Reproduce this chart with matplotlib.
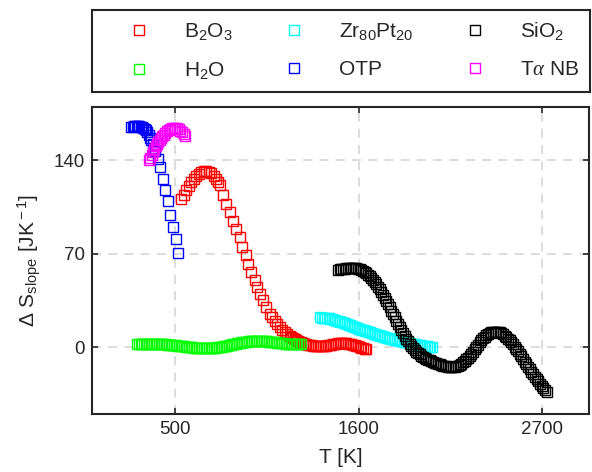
import matplotlib
matplotlib.use('Agg')
import matplotlib.pyplot as plt

plt.rcParams['font.family'] = ['Liberation Sans', 'DejaVu Sans']
plt.rcParams['mathtext.fontset'] = 'custom'
plt.rcParams['mathtext.rm'] = 'Liberation Sans'
plt.rcParams['mathtext.it'] = 'Liberation Serif:italic'
plt.rcParams['mathtext.bf'] = 'Liberation Sans:bold'

# B2O3
T_b2o3 = [536, 550, 565, 580, 595, 610, 625, 640, 655, 670, 685, 700, 715, 730, 745, 756,
          766, 786, 806, 826, 846, 866, 886, 902, 921, 935, 956, 975, 989, 1005, 1025, 1046,
          1065, 1080, 1095, 1110, 1125, 1140, 1155, 1170, 1185, 1195, 1205, 1215, 1225, 1235,
          1245, 1255, 1265, 1275, 1285, 1295, 1305, 1315, 1325, 1335, 1345, 1355, 1365, 1375,
          1385, 1395, 1405, 1415, 1425, 1435, 1445, 1455, 1465, 1475, 1485, 1495, 1505, 1515,
          1525, 1535, 1545, 1555, 1565, 1575, 1585, 1595, 1605, 1615, 1625, 1635, 1645]
S_b2o3 = [111, 114, 117.5, 120.5, 123.5, 126, 128, 129.8, 131, 131.8, 132, 131.5, 130.3, 128.5, 126, 124,
          121.7, 114, 107.4, 101.6, 94.8, 88.3, 82.3, 75.2, 69, 62.7, 56.4, 50.2, 45.2, 40.2, 35.1, 30.1,
          25.1, 22.5, 20, 17.4, 15, 13, 11.2, 9.7, 8.3, 7.6, 6.9, 6.3, 5.6, 4.9,
          4.2, 3.6, 3.0, 2.6, 2.2, 1.9, 1.7, 1.5, 1.3, 1.0, 0.8, 0.65, 0.6, 0.65,
          0.7, 0.9, 1.1, 1.4, 1.7, 2.0, 2.3, 2.6, 2.8, 3.0, 3.1, 3.2, 3.2, 3.1,
          3.0, 2.8, 2.6, 2.3, 2.0, 1.6, 1.2, 0.8, 0.3, -0.2, -0.6, -1.1, -1.5]

# H2O
T_h2o = [271, 281, 291, 301, 311, 321, 331, 341, 351, 361, 371, 381, 391, 401, 411, 421, 431, 441,
         451, 461, 471, 481, 491, 501, 511, 521, 531, 541, 551, 561, 571, 581, 591, 601, 611, 621,
         631, 641, 651, 661, 671, 681, 691, 701, 711, 721, 731, 741, 751, 761, 771, 781, 791, 801,
         811, 821, 831, 841, 851, 861, 871, 881, 891, 901, 911, 921, 931, 941, 951, 961, 971, 981,
         991, 1001, 1011, 1021, 1031, 1041, 1051, 1061, 1071, 1081, 1091, 1101, 1111, 1121, 1131,
         1141, 1151, 1161, 1171, 1181, 1191, 1201, 1211, 1221, 1231, 1241, 1251]
S_h2o = [2.2, 2.25, 2.3, 2.35, 2.4, 2.45, 2.5, 2.5, 2.5, 2.5, 2.5, 2.45, 2.4, 2.35, 2.3, 2.25, 2.2, 2.1,
         2.0, 1.9, 1.8, 1.7, 1.6, 1.45, 1.3, 1.15, 1.0, 0.85, 0.7, 0.55, 0.4, 0.25, 0.1, -0.05, -0.2, -0.3,
         -0.4, -0.5, -0.6, -0.65, -0.7, -0.7, -0.7, -0.65, -0.6, -0.5, -0.4, -0.25, -0.1, 0.1, 0.3, 0.55, 0.8, 1.05,
         1.3, 1.6, 1.9, 2.2, 2.5, 2.75, 3.0, 3.25, 3.5, 3.7, 3.9, 4.1, 4.3, 4.45, 4.6, 4.65, 4.7, 4.75,
         4.8, 4.75, 4.7, 4.65, 4.6, 4.5, 4.4, 4.25, 4.1, 3.95, 3.8, 3.65, 3.5, 3.35, 3.2,
         3.05, 2.9, 2.8, 2.7, 2.6, 2.5, 2.45, 2.4, 2.35, 2.3, 2.3, 2.3]

# Zr80Pt20
T_zrpt = [1369, 1379, 1389, 1399, 1409, 1419, 1429, 1439, 1449, 1459, 1469, 1479, 1489, 1499,
          1509, 1519, 1529, 1539, 1549, 1559, 1569, 1579, 1589, 1599, 1609, 1619, 1629, 1639,
          1649, 1659, 1669, 1679, 1689, 1699, 1709, 1719, 1729, 1739, 1749, 1759, 1769, 1779,
          1789, 1799, 1809, 1819, 1829, 1839, 1849, 1859, 1869, 1879, 1889, 1899, 1909, 1919,
          1929, 1939, 1949, 1959, 1969, 1979, 1989, 1999, 2009, 2019, 2029, 2037]
S_zrpt = [22.3, 22.2, 22.1, 22.0, 21.8, 21.6, 21.3, 21.0, 20.7, 20.4, 20.0, 19.6, 19.2, 18.8,
          18.3, 17.8, 17.3, 16.8, 16.3, 15.8, 15.4, 14.9, 14.5, 14.0, 13.6, 13.2, 12.8, 12.4,
          12.0, 11.5, 11.1, 10.6, 10.2, 9.7, 9.3, 8.9, 8.5, 8.1, 7.8, 7.4, 7.1, 6.8,
          6.5, 6.2, 5.9, 5.6, 5.3, 5.0, 4.7, 4.4, 4.1, 3.8, 3.6, 3.3, 3.0, 2.7,
          2.5, 2.2, 2.0, 1.7, 1.5, 1.2, 1.0, 0.8, 0.6, 0.4, 0.2, 0.0]

# OTP
T_otp = [236, 244, 252, 260, 268, 276, 284, 292, 300, 308, 316, 324, 332, 340, 348, 356, 364,
         372, 380, 394, 410, 426, 440, 456, 470, 486, 502, 518]
S_otp = [165, 165.3, 165.6, 165.8, 165.8, 165.7, 165.5, 165.2, 164.8, 164.3, 163.6, 162.6, 161, 159.3,
         157, 155, 152.5, 149.5, 147, 141, 134.7, 126.4, 117.9, 109.9, 99.1, 89.9, 81, 70.7]

# SiO2
T_sio2 = [1475, 1485, 1495, 1505, 1515, 1525, 1535, 1545, 1555, 1565, 1575, 1585, 1595, 1605,
          1615, 1625, 1635, 1645, 1655, 1665, 1675, 1685, 1695, 1705, 1715, 1725, 1735, 1745,
          1755, 1765, 1775, 1785, 1795, 1805, 1815, 1825, 1835, 1845, 1855, 1865, 1875, 1885,
          1895, 1905, 1915, 1925, 1935, 1945, 1955, 1965, 1975, 1985, 1995, 2005, 2015, 2025,
          2035, 2045, 2055, 2065, 2075, 2085, 2095, 2105, 2115, 2125, 2135, 2145, 2155, 2165,
          2175, 2185, 2195, 2205, 2215, 2225, 2235, 2245, 2255, 2265, 2275, 2285, 2295, 2305,
          2315, 2325, 2335, 2345, 2355, 2365, 2375, 2385, 2395, 2405, 2415, 2425, 2435, 2445,
          2455, 2465, 2475, 2485, 2495, 2505, 2515, 2525, 2535, 2545, 2555, 2565, 2575, 2585,
          2595, 2605, 2615, 2625, 2635, 2645, 2655, 2665, 2675, 2685, 2695, 2705, 2715, 2725]
S_sio2 = [58.2, 58.4, 58.6, 58.8, 59.0, 59.2, 59.3, 59.4, 59.5, 59.5, 59.4, 59.2, 59.0, 58.6,
          58.0, 57.3, 56.5, 55.6, 54.5, 53.3, 52.0, 50.6, 49.0, 47.3, 45.5, 43.6, 41.5, 39.3,
          37.0, 34.8, 32.5, 30.0, 27.5, 25.0, 22.5, 20.0, 17.5, 15.1, 12.8, 10.6, 8.5, 6.5,
          4.5, 2.7, 1.0, -0.6, -2.0, -3.2, -4.3, -5.3, -6.2, -7.0, -7.8, -8.5, -9.2, -9.8,
          -10.4, -11.0, -11.5, -12.0, -12.5, -12.9, -13.3, -13.7, -14.0, -14.3, -14.5, -14.6, -14.7, -14.7,
          -14.5, -14.2, -13.7, -13.1, -12.3, -11.4, -10.3, -9.1, -7.8, -6.3, -4.8, -3.2, -1.5, 0.3,
          2.0, 3.6, 5.2, 6.7, 8.0, 9.1, 10.0, 10.7, 11.2, 11.5, 11.7, 11.7, 11.5, 11.1,
          10.5, 9.7, 8.8, 7.7, 6.5, 5.2, 3.7, 2.1, 0.5, -1.2, -3.0, -4.9, -6.8, -8.7,
          -10.7, -12.6, -14.5, -16.4, -18.3, -20.2, -22.0, -23.8, -25.5, -27.3, -29.0, -30.5, -32.0, -33.5]

# T alpha NB
T_tanb = [342, 350, 358, 366, 374, 382, 390, 398, 406, 414, 422, 430, 440, 450, 460, 470,
          480, 490, 500, 510, 520, 530, 540, 550, 558]
S_tanb = [140, 142, 144, 146.5, 148.5, 150.5, 152, 153.5, 155, 156.5, 158, 159.3, 160.8, 162, 163, 163.8,
          164.3, 164.5, 164.3, 164, 163.3, 162.3, 161, 159.5, 158]

series = [
  (T_b2o3, S_b2o3, (1, 0, 0), r'B$_{\rm 2}$O$_{\rm 3}$'),
  (T_h2o, S_h2o, (0, 1, 0), r'H$_{\rm 2}$O'),
  (T_zrpt, S_zrpt, (0, 1, 1), r'Zr$_{\rm 80}$Pt$_{\rm 20}$'),
  (T_otp, S_otp, (0, 0, 1), 'OTP'),
  (T_sio2, S_sio2, (0, 0, 0), r'SiO$_{\rm 2}$'),
  (T_tanb, S_tanb, (1, 0, 1), r'T$\alpha$ NB'),
]

dark = (0.15, 0.15, 0.15)

fig = plt.figure(figsize=(5.92, 4.72), dpi=100)
ax = fig.add_axes([0.1554, 0.1229, 0.8396, 0.6504])

handles = []
for T, S, c, lab in series:
  h, = ax.plot(T, S, linestyle='none', marker='s', markersize=7, markerfacecolor='none',
               markeredgecolor=c, markeredgewidth=1.0, label=lab)
  handles.append(h)

ax.set_xlim(0, 2980)
ax.set_ylim(-50, 180)
ax.set_xticks([500, 1600, 2700])
ax.set_yticks([0, 70, 140])
ax.grid(True, color=(0.85, 0.85, 0.85), linestyle=(0, (5, 4)), linewidth=1.3)
ax.set_axisbelow(True)
ax.tick_params(direction='in', top=True, right=True, length=4, width=1.2, color=dark,
               labelcolor=dark, labelsize=13.5, pad=5)
for sp in ax.spines.values():
  sp.set_color(dark)
  sp.set_linewidth(1.5)

ax.set_xlabel('T [K]', fontsize=15, color=dark, labelpad=7)
ax.set_ylabel(r'$\Delta$ S$_{\rm slope}$ [JK$^{\rm -1}$]', fontsize=15, color=dark, labelpad=8)

leg = fig.legend(handles=handles, ncol=3, loc='upper left', mode='expand',
                 bbox_to_anchor=(92/592, (472-10)/472, (590-92)/592, 0),
                 fontsize=15, handlelength=3.5, handletextpad=0.4, labelspacing=0.85,
                 borderpad=0.5, borderaxespad=0, fancybox=False, framealpha=1, edgecolor=dark)
leg.get_frame().set_linewidth(1.5)
for t in leg.get_texts():
  t.set_color(dark)

fig.savefig('out.png', dpi=100)
